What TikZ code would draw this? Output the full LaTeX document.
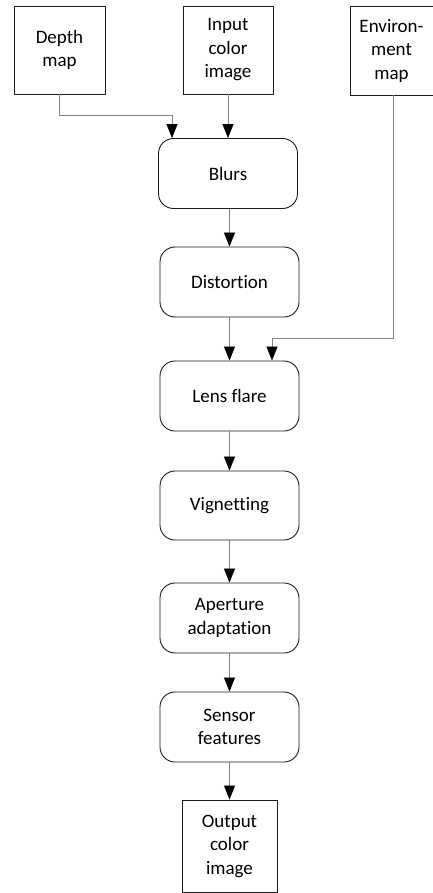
\documentclass[tikz,border=0pt]{standalone}
\usepackage{fontspec}
\setmainfont{Carlito}[Ligatures=NoCommon]
\usepackage{tikz}
\usetikzlibrary{arrows.meta,positioning,calc}
\definecolor{ink}{HTML}{1A1A1A}
\definecolor{wire}{HTML}{808080}
\tikzset{
  srcbox/.style={draw=ink,line width=0.9pt,align=center,inner sep=0pt},
  stagebox/.style={draw=ink,line width=0.9pt,rounded corners=15pt,align=center,
    minimum width=139pt,minimum height=70pt,inner sep=0pt},
  flow/.style={draw=wire,line width=0.8pt,
    -{Triangle[length=14pt,width=11pt,color=black]}}
}

\begin{document}
\begin{tikzpicture}[x=1pt,y=1pt,font=\fontsize{19}{23.5}\selectfont]
  \useasboundingbox (0,0) rectangle (433,-893);

  % Inputs along the top.
  \node[srcbox,minimum width=91pt,minimum height=88pt] (depth) at (59.5,-50) {Depth\\map};
  \node[srcbox,minimum width=90pt,minimum height=88pt] (input) at (228,-50) {Input\\color\\image};
  \node[srcbox,minimum width=83pt,minimum height=89pt] (envmap) at (391.5,-50.5) {Environ-\\ment\\map};

  % Processing chain.
  \node[stagebox] (blurs) at (228,-173.5) {Blurs};
  \node[stagebox] (dist) at (229.5,-282) {Distortion};
  \node[stagebox] (lens) at (229.5,-396) {Lens flare};
  \node[stagebox,minimum height=69pt] (vign) at (229.5,-505.5) {Vignetting};
  \node[stagebox] (aper) at (229.5,-618) {Aperture\\adaptation};
  \node[stagebox] (sensor) at (229.5,-727) {Sensor\\features};
  \node[srcbox,minimum width=95pt,minimum height=92pt] (output) at (229.5,-846) {Output\\color\\image};

  % Connectors.
  \coordinate (blurin) at ($(blurs.north)+(-56,0)$);
  \coordinate (lensin) at ($(lens.north)+(42.5,0)$);
  \draw[flow] (depth.south) -- ++(0,-21) -| (blurin);
  \draw[flow] (input.south) -- (input.south |- blurs.north);
  \draw[flow] ([xshift=1.5pt]envmap.south) -- ++(0,-243) -| (lensin);
  \foreach \a/\b in {blurs/dist,dist/lens,lens/vign,vign/aper,aper/sensor,sensor/output}
    \draw[flow] (\b.north |- \a.south) -- (\b.north);
\end{tikzpicture}
\end{document}
